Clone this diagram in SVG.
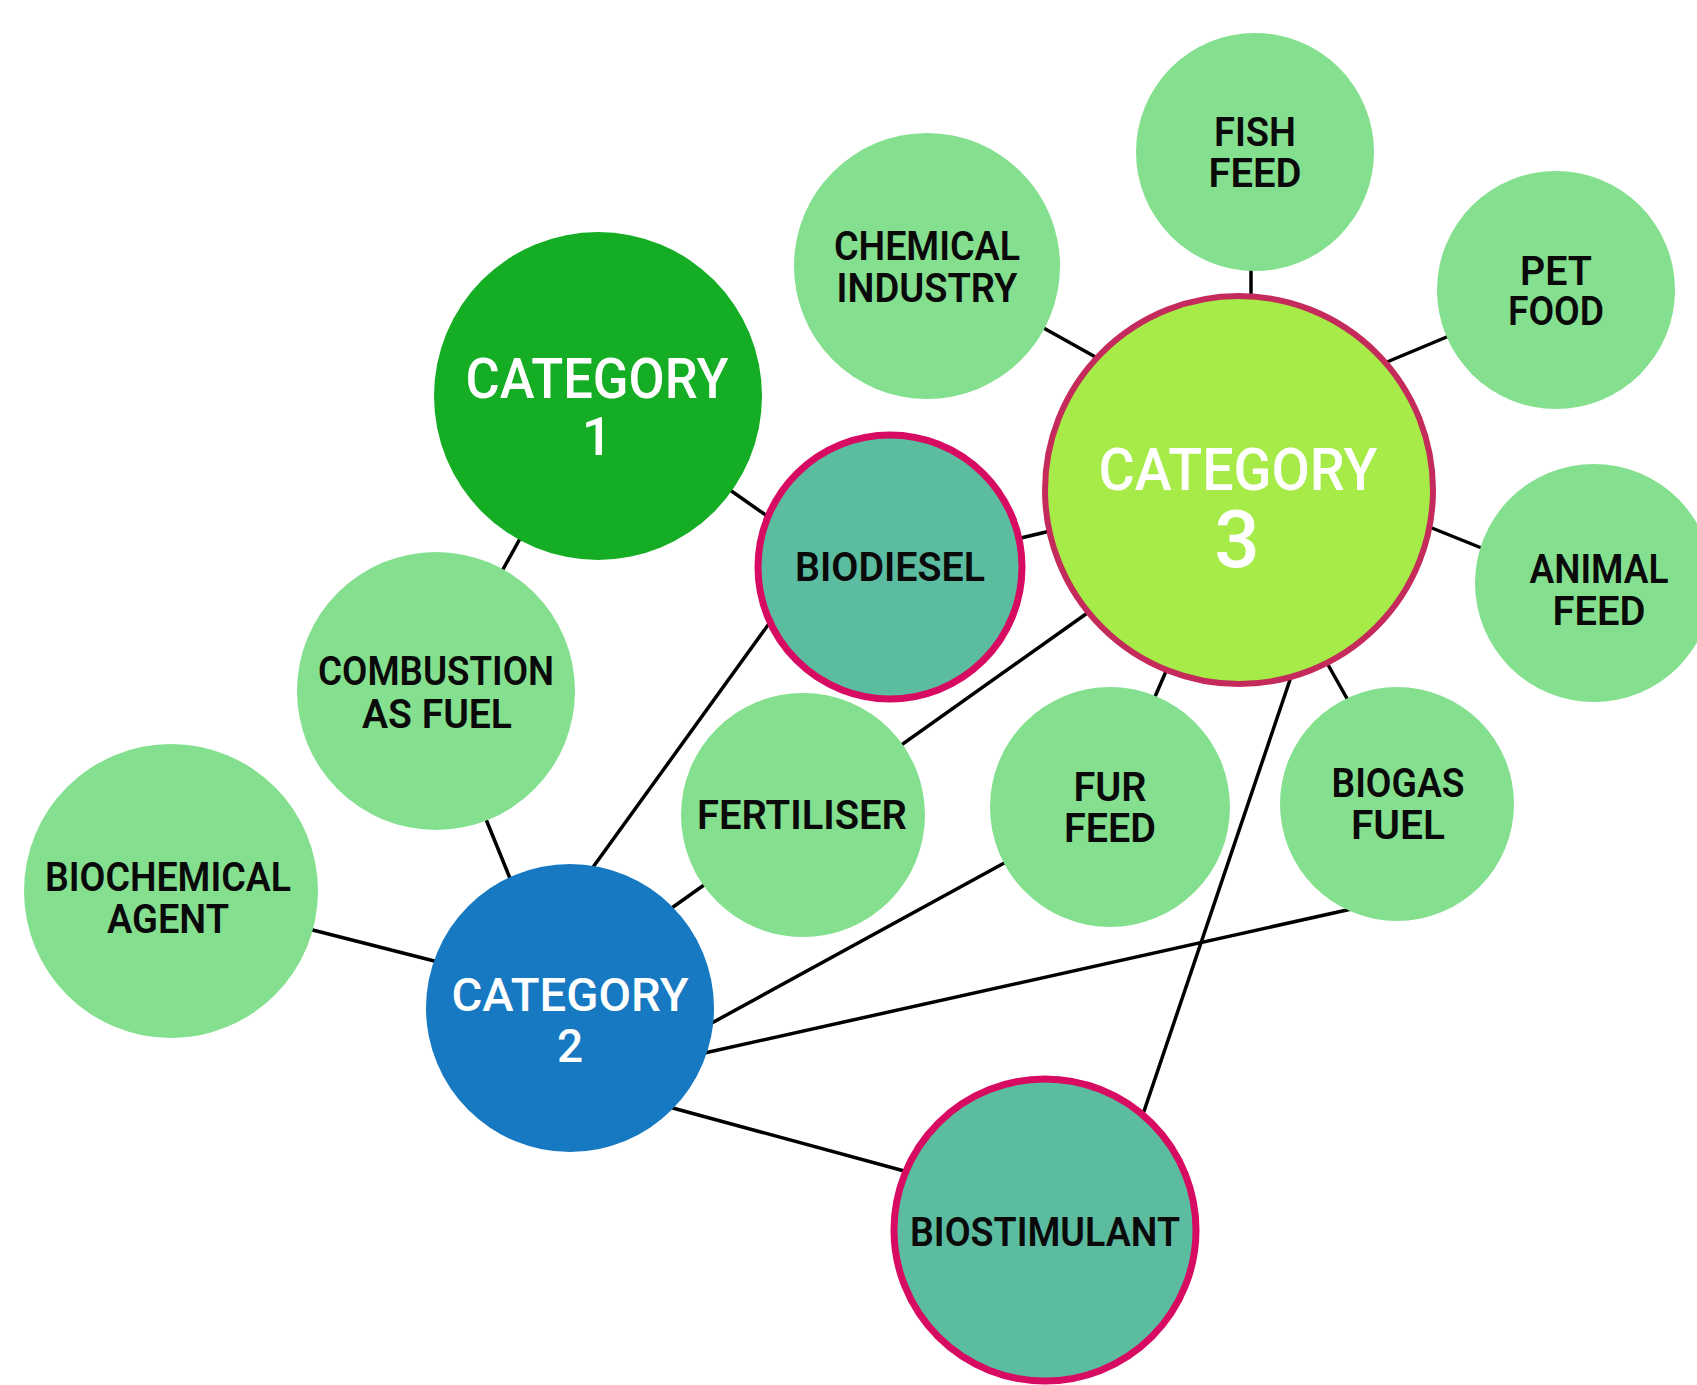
<svg xmlns="http://www.w3.org/2000/svg" width="1697" height="1385" viewBox="0 0 1697 1385">
  <style>
    .link { stroke: #000; stroke-width: 3.5; stroke-linecap: round; fill: none; }
    .leaf { fill: #84e08f; }
    .key { fill: #5bbca0; stroke: #d80b62; stroke-width: 7; }
    .cat1 { fill: #14ad23; }
    .cat2 { fill: #1779c2; }
    .cat3 { fill: #a6eb47; stroke: #c42b5b; stroke-width: 6; }
    .lbl { font-family: Roboto, "Liberation Sans", sans-serif; font-weight: 600; font-size: 40px; fill: #0a0a0a; text-anchor: middle; }
    .big { font-family: Roboto, "Liberation Sans", sans-serif; font-weight: 500; fill: #ffffff; text-anchor: middle; }
  </style>

  <!-- connectors, drawn beneath the nodes -->
  <g id="connectors">
    <line class="link" x1="1251" y1="262" x2="1251" y2="302"/>
    <line class="link" x1="1031" y1="321" x2="1108" y2="364"/>
    <line class="link" x1="1375" y1="367" x2="1461" y2="331"/>
    <line class="link" x1="1417" y1="522" x2="1494" y2="553"/>
    <line class="link" x1="720" y1="483" x2="777" y2="523"/>
    <line class="link" x1="1008" y1="541" x2="1063" y2="528"/>
    <line class="link" x1="527" y1="526" x2="496" y2="582"/>
    <line class="link" x1="481" y1="807" x2="516" y2="893"/>
    <line class="link" x1="297" y1="926" x2="450" y2="965"/>
    <line class="link" x1="776" y1="614" x2="583" y2="881"/>
    <line class="link" x1="1100" y1="604" x2="659" y2="917"/>
    <line class="link" x1="1170" y1="662" x2="1151" y2="706"/>
    <line class="link" x1="1322" y1="654" x2="1354" y2="711"/>
    <line class="link" x1="1295" y1="665" x2="1139" y2="1126"/>
    <line class="link" x1="1017" y1="856" x2="699" y2="1030"/>
    <line class="link" x1="1365" y1="906" x2="691" y2="1056"/>
    <line class="link" x1="658" y1="1104" x2="919" y2="1175"/>
  </g>

  <g id="fish-feed">
    <circle class="leaf" cx="1255" cy="152" r="119"/>
    <text class="lbl" x="1255" y="146" textLength="82" lengthAdjust="spacingAndGlyphs">FISH</text>
    <text class="lbl" x="1255" y="187" textLength="93" lengthAdjust="spacingAndGlyphs">FEED</text>
  </g>

  <g id="chemical-industry">
    <circle class="leaf" cx="927" cy="266" r="133"/>
    <text class="lbl" x="927" y="260" textLength="186" lengthAdjust="spacingAndGlyphs">CHEMICAL</text>
    <text class="lbl" x="927" y="302" textLength="181" lengthAdjust="spacingAndGlyphs">INDUSTRY</text>
  </g>

  <g id="pet-food">
    <circle class="leaf" cx="1556" cy="290" r="119"/>
    <text class="lbl" x="1556" y="285" textLength="72" lengthAdjust="spacingAndGlyphs">PET</text>
    <text class="lbl" x="1556" y="325" textLength="96" lengthAdjust="spacingAndGlyphs">FOOD</text>
  </g>

  <g id="category-1">
    <circle class="cat1" cx="598" cy="396" r="164"/>
    <text class="big" x="597" y="398" font-size="56" textLength="263" lengthAdjust="spacingAndGlyphs">CATEGORY</text>
    <text class="big" x="597" y="455" font-size="54">1</text>
  </g>

  <g id="biodiesel">
    <circle class="key" cx="890" cy="567" r="132"/>
    <text class="lbl" x="890" y="581" textLength="190" lengthAdjust="spacingAndGlyphs">BIODIESEL</text>
  </g>

  <g id="category-3">
    <circle class="cat3" cx="1239" cy="490" r="194"/>
    <text class="big" x="1238" y="490" font-size="59" textLength="279" lengthAdjust="spacingAndGlyphs">CATEGORY</text>
    <text class="big" x="1237" y="567" font-size="80" font-weight="600">3</text>
  </g>

  <g id="animal-feed">
    <circle class="leaf" cx="1594" cy="583" r="119"/>
    <text class="lbl" x="1599" y="583" textLength="139" lengthAdjust="spacingAndGlyphs">ANIMAL</text>
    <text class="lbl" x="1599" y="625" textLength="93" lengthAdjust="spacingAndGlyphs">FEED</text>
  </g>

  <g id="combustion-as-fuel">
    <circle class="leaf" cx="436" cy="691" r="139"/>
    <text class="lbl" x="436" y="685" textLength="236" lengthAdjust="spacingAndGlyphs">COMBUSTION</text>
    <text class="lbl" x="437" y="728" textLength="150" lengthAdjust="spacingAndGlyphs">AS FUEL</text>
  </g>

  <g id="fertiliser">
    <circle class="leaf" cx="803" cy="815" r="122"/>
    <text class="lbl" x="802" y="829" textLength="210" lengthAdjust="spacingAndGlyphs">FERTILISER</text>
  </g>

  <g id="fur-feed">
    <circle class="leaf" cx="1110" cy="807" r="120"/>
    <text class="lbl" x="1110" y="801" textLength="73" lengthAdjust="spacingAndGlyphs">FUR</text>
    <text class="lbl" x="1110" y="842" textLength="92" lengthAdjust="spacingAndGlyphs">FEED</text>
  </g>

  <g id="biogas-fuel">
    <circle class="leaf" cx="1397" cy="804" r="117"/>
    <text class="lbl" x="1398" y="797" textLength="133" lengthAdjust="spacingAndGlyphs">BIOGAS</text>
    <text class="lbl" x="1398" y="839" textLength="94" lengthAdjust="spacingAndGlyphs">FUEL</text>
  </g>

  <g id="biochemical-agent">
    <circle class="leaf" cx="171" cy="891" r="147"/>
    <text class="lbl" x="168" y="891" textLength="246" lengthAdjust="spacingAndGlyphs">BIOCHEMICAL</text>
    <text class="lbl" x="168" y="933" textLength="122" lengthAdjust="spacingAndGlyphs">AGENT</text>
  </g>

  <g id="category-2">
    <circle class="cat2" cx="570" cy="1008" r="144"/>
    <text class="big" x="570" y="1011" font-size="47" textLength="237" lengthAdjust="spacingAndGlyphs">CATEGORY</text>
    <text class="big" x="570" y="1062" font-size="46">2</text>
  </g>

  <g id="biostimulant">
    <circle class="key" cx="1045" cy="1230" r="151"/>
    <text class="lbl" x="1045" y="1246" textLength="270" lengthAdjust="spacingAndGlyphs">BIOSTIMULANT</text>
  </g>
</svg>
